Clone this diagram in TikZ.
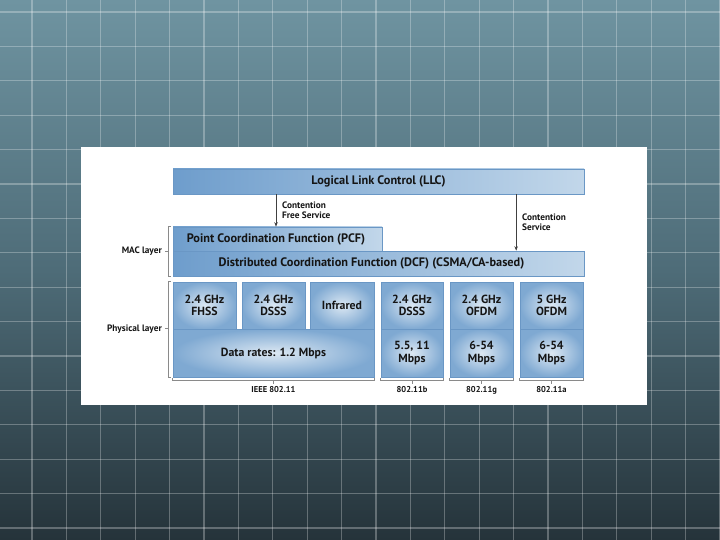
\documentclass[tikz,border=0pt]{standalone}
\usepackage{fontspec}
\setmainfont{PT Sans}
\usetikzlibrary{calc,arrows.meta}
\definecolor{bgTop}{HTML}{6F94A1}
\definecolor{bgMid}{HTML}{4E6C78}
\definecolor{bgBot}{HTML}{25333A}
\definecolor{barL}{HTML}{6E9DCC}
\definecolor{barR}{HTML}{C2D7EA}
\definecolor{boxIn}{HTML}{DCE8F3}
\definecolor{boxOut}{HTML}{7FA9D2}
\definecolor{boxEdge}{HTML}{6A97C5}
\definecolor{txt}{HTML}{151515}
\definecolor{brkc}{HTML}{8A8A8A}
\tikzset{
  bar/.style={draw=boxEdge, line width=0.6pt, left color=barL, right color=barR,
    font=\fontsize{12.3}{13}\selectfont\bfseries, text=txt, inner sep=0pt, anchor=center},
  phybox/.style={draw=boxEdge, line width=0.6pt, inner color=boxIn, outer color=boxOut,
    font=\fontsize{11.8}{12.7}\selectfont\bfseries, text=txt, align=center, inner sep=0pt},
  lbl/.style={font=\fontsize{9.3}{10}\selectfont\bfseries, text=txt, align=left, inner sep=0pt},
  grp/.style={font=\fontsize{8.5}{9}\selectfont\bfseries, text=txt, inner sep=0pt, anchor=base},
  brk/.style={draw=brkc, line width=0.8pt},
  arr/.style={draw=black!75, line width=0.7pt, -{Stealth[length=4.5pt,width=3.5pt]}},
}
\begin{document}
\begin{tikzpicture}[x=1pt,y=-1pt]
\useasboundingbox (0,0) rectangle (720,540);
% background
\shade[top color=bgTop, bottom color=bgBot, middle color=bgMid] (0,0) rectangle (720,540);
\foreach \i in {0,...,20} {
  \draw[white, opacity=0.28, line width=1.2pt] ({32+34.4*\i},0) -- ({32+34.4*\i},540);
}
\foreach \j in {0,...,15} {
  \draw[white, opacity=0.28, line width=1.2pt] (0,{12+34.4*\j}) -- (720,{12+34.4*\j});
}
% white panel
\fill[white] (81,147) rectangle (647,405);

% bars
\node[bar, minimum width=411pt, minimum height=25pt] (llc) at (378.5,181.5) {Logical Link Control (LLC)};
\node[bar, minimum width=209pt, minimum height=24pt] (pcf) at (277.5,239) {Point Coordination Function (PCF)\hspace*{3pt}};
\node[bar, minimum width=411pt, minimum height=25pt] (dcf) at (378.5,263.5) {Distributed Coordination Function (DCF) (CSMA/CA-based)\hspace*{14pt}};

% physical boxes
\node[phybox, minimum width=63pt, minimum height=47pt] (fhss) at (204.5,305.5) {2.4 GHz\\FHSS};
\node[phybox, minimum width=63pt, minimum height=47pt] (dsss) at (273.5,305.5) {2.4 GHz\\DSSS};
\node[phybox, minimum width=64pt, minimum height=47pt] (ir) at (342,305.5) {Infrared};
\node[phybox, minimum width=201pt, minimum height=48pt] (data) at (273.5,353) {Data rates: 1.2 Mbps};
\node[phybox, minimum width=62pt, minimum height=47pt] (btop) at (412,305.5) {2.4 GHz\\DSSS};
\node[phybox, minimum width=62pt, minimum height=48pt] (bbot) at (412,353) {5.5, 11\\Mbps};
\node[phybox, minimum width=63pt, minimum height=47pt] (gtop) at (481.5,305.5) {2.4 GHz\\OFDM};
\node[phybox, minimum width=63pt, minimum height=48pt] (gbot) at (481.5,353) {6-54\\Mbps};
\node[phybox, minimum width=63pt, minimum height=47pt] (atop) at (551.5,305.5) {5 GHz\\OFDM};
\node[phybox, minimum width=63pt, minimum height=48pt] (abot) at (551.5,353) {6-54\\Mbps};

% arrows
\coordinate (c1) at ($(llc.south west)!0.251!(llc.south east)$);
\draw[arr] (c1) -- (c1 |- pcf.north);
\coordinate (c2) at ($(llc.south west)!0.8345!(llc.south east)$);
\draw[arr] (c2) -- (c2 |- dcf.north);
\node[lbl, anchor=west] (cfs) at (282,210.7) {Contention\\Free Service};
\node[lbl, anchor=west] (cs) at (522,222.5) {Contention\\Service};

% layer brackets
\draw[brk] ($(pcf.north west)+(-1.5,0)$) -- ++(-3,0) -- ($(dcf.south west)+(-4.5,0)$) -- ++(3,0);
\node[lbl, anchor=east] (mac) at (162,251) {MAC layer};
\draw[brk] ($(dcf.west)+(-4.5,-12.5)$) coordinate (mt) -- ($(mt)+(-3,0)$);
\draw[brk] ($(fhss.north west)+(-1.5,0)$) -- ++(-3,0) -- ($(data.south west)+(-4.5,0)$) -- ++(3,0);
\node[lbl, anchor=east] (phy) at (162,329) {Physical layer};
\draw[brk] ($(data.north west)+(-4.5,0)$) coordinate (pt) -- ($(pt)+(-3,0)$);

% bottom brackets
\foreach \L/\R/\T/\nm in {data/data/IEEE 802.11/g1, bbot/bbot/802.11b/g2, gbot/gbot/802.11g/g3, abot/abot/802.11a/g4} {
  \draw[brk] ($(\L.south west)+(0,0.5)$) -- ++(0,3) -- ($(\R.south east)+(0,3.5)$) -- ++(0,-3);
  \draw[brk] ($(\L.south)+(0,3.5)$) -- ++(0,3);
  \node[grp] (\nm) at ($(\L.south)+(0,15.3)$) {\T};
}
\end{tikzpicture}
\end{document}
